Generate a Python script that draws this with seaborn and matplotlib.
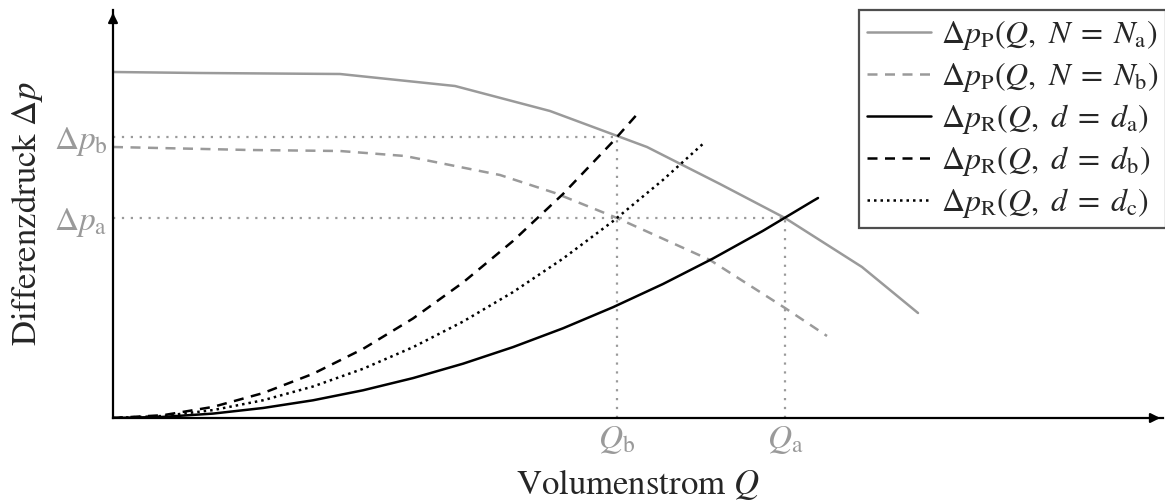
import matplotlib
matplotlib.use("Agg")
import matplotlib.pyplot as plt
import seaborn as sns
import pandas as pd

# ---- data (arbitrary units) ----
q_pump_a = [0, 0.87, 2.27, 3.42, 4.37, 5.34, 6.07, 6.72, 7.49, 8.05]
dp_pump_a = [3.46, 3.45, 3.44, 3.32, 3.07, 2.71, 2.34, 2.00, 1.51, 1.05]

q_pump_b = [0, 1.37, 2.27, 2.92, 3.87, 4.42, 5.04, 5.97, 6.72, 7.14]
dp_pump_b = [2.71, 2.68, 2.67, 2.62, 2.43, 2.25, 2.00, 1.58, 1.10, 0.82]

q_sys_a = [0, 0.5, 1, 1.5, 2, 2.5, 3, 3.5, 4, 4.5, 5, 5.5, 6, 6.5, 7, 7.05]
dp_sys_a = [0, 0.011, 0.044, 0.100, 0.177, 0.277, 0.399, 0.543, 0.709,
            0.897, 1.108, 1.340, 1.595, 1.872, 2.171, 2.20]

q_sys_b = [0, 0.5, 1, 1.5, 2, 2.5, 3, 3.5, 4, 4.5, 5, 5.27]
dp_sys_b = [0, 0.028, 0.111, 0.249, 0.442, 0.691, 0.995, 1.355, 1.770,
            2.240, 2.765, 3.07]

q_sys_c = [0, 0.5, 1, 1.5, 2, 2.5, 3, 3.5, 4, 4.5, 5, 5.5, 5.92]
dp_sys_c = [0, 0.020, 0.079, 0.177, 0.315, 0.492, 0.708, 0.964, 1.259,
            1.594, 1.968, 2.381, 2.76]

Q_a, dP_a = 6.72, 2.00
Q_b, dP_b = 5.04, 2.81

x_tick_pos = [Q_b, Q_a]
x_tick_labels = [r"$Q_\mathrm{b}$", r"$Q_\mathrm{a}$"]
y_tick_pos = [dP_a, dP_b]
y_tick_labels = [r"$\Delta p_\mathrm{a}$", r"$\Delta p_\mathrm{b}$"]

labels = [r"$\Delta p_\mathrm{P}(Q,\ N\;=\;N_\mathrm{a})$",
          r"$\Delta p_\mathrm{P}(Q,\ N\;=\;N_\mathrm{b})$",
          r"$\Delta p_\mathrm{R}(Q,\ d\;=\;d_\mathrm{a})$",
          r"$\Delta p_\mathrm{R}(Q,\ d\;=\;d_\mathrm{b})$",
          r"$\Delta p_\mathrm{R}(Q,\ d\;=\;d_\mathrm{c})$"]

sns.set_theme(style="white")
plt.rcParams["font.family"] = ["STIXGeneral", "DejaVu Serif"]
plt.rcParams["mathtext.fontset"] = "stix"

GRAY = "#9a9a9a"

fig = plt.figure(figsize=(11.65, 5.04), dpi=100)
ax = fig.add_axes([113 / 1165, 86 / 504, 1050 / 1165, 408 / 504])
ax.set_xlim(0, 10.5)
ax.set_ylim(0, 4.08)

series = [
    (q_pump_a, dp_pump_a, GRAY, "-", labels[0]),
    (q_pump_b, dp_pump_b, GRAY, (0, (4, 3)), labels[1]),
    (q_sys_a, dp_sys_a, "black", "-", labels[2]),
    (q_sys_b, dp_sys_b, "black", (0, (4, 3)), labels[3]),
    (q_sys_c, dp_sys_c, "black", (0, (1, 1.6)), labels[4]),
]
for qs, dps, col, ls, lab in series:
    df = pd.DataFrame({"Q": qs, "dp": dps})
    sns.lineplot(data=df, x="Q", y="dp", ax=ax, color=col, linestyle=ls,
                 linewidth=1.8, sort=False, estimator=None, label=lab)

# guide lines
guide = dict(color=GRAY, linestyle=(0, (1, 3)), linewidth=1.6, zorder=1)
ax.plot([0, Q_a], [dP_a, dP_a], **guide)
ax.plot([Q_a, Q_a], [0, dP_a], **guide)
ax.plot([0, Q_b], [dP_b, dP_b], **guide)
ax.plot([Q_b, Q_b], [0, dP_b], **guide)

# axes styling
for s in ["top", "right"]:
    ax.spines[s].set_visible(False)
for s in ["left", "bottom"]:
    ax.spines[s].set_color("black")
    ax.spines[s].set_linewidth(1.6)
ax.annotate("", xy=(1.0, 0), xytext=(0.99, 0), xycoords="axes fraction",
            arrowprops=dict(arrowstyle="-|>", color="black", lw=1.6,
                            mutation_scale=14), annotation_clip=False)
ax.annotate("", xy=(0, 1.0), xytext=(0, 0.98), xycoords="axes fraction",
            arrowprops=dict(arrowstyle="-|>", color="black", lw=1.6,
                            mutation_scale=14), annotation_clip=False)

ax.set_xticks(x_tick_pos)
ax.set_xticklabels(x_tick_labels, color=GRAY, fontsize=24)
ax.set_yticks(y_tick_pos)
ax.set_yticklabels(y_tick_labels, color=GRAY, fontsize=24)
ax.tick_params(length=0, pad=4)
ax.grid(False)

ax.set_xlabel(r"Volumenstrom $Q$", fontsize=25, labelpad=8)
ax.set_ylabel(r"Differenzdruck $\Delta p$", fontsize=25, labelpad=6)

leg = ax.legend(loc="upper right", bbox_to_anchor=(1.003, 1.0), fontsize=23,
                frameon=True, fancybox=False, edgecolor="#222222",
                handlelength=2.0, handletextpad=0.3, borderpad=0.25,
                labelspacing=0.25, borderaxespad=0.0)
leg.get_frame().set_linewidth(1.6)

fig.savefig("out.png", dpi=100)
